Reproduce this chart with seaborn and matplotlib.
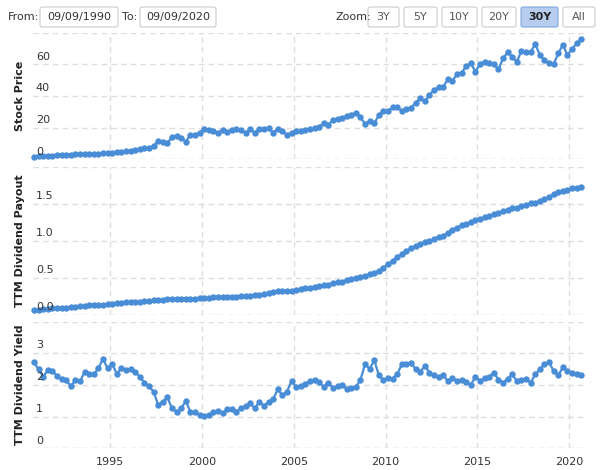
import numpy as np
import pandas as pd
import matplotlib
matplotlib.use("Agg")
import matplotlib.pyplot as plt
import matplotlib.dates as mdates
from matplotlib.patches import FancyBboxPatch
import seaborn as sns

sns.set_theme(style="white")
plt.rcParams['font.family'] = ['DejaVu Sans']

# ---- data (quarterly) ----
dates = pd.date_range("1990-11-01", "2020-09-01", periods=120)

stock_price = [
    1.5, 2.1, 1.8, 2.1, 2.4, 2.6, 2.8, 3.0, 3.0, 3.2,
    3.2, 3.4, 3.6, 3.4, 3.6, 3.8, 4.0, 4.2, 4.4, 4.8,
    5.0, 5.3, 5.7, 6.3, 6.9, 7.4, 8.4, 11.6, 10.9, 10.1,
    14.1, 14.7, 13.3, 11.2, 15.4, 15.4, 16.8, 19.4, 18.3, 17.9,
    16.8, 18.5, 17.3, 18.5, 18.9, 18.3, 16.8, 18.9, 16.8, 19.4,
    18.9, 20.0, 16.8, 19.4, 17.9, 15.4, 16.8, 17.9, 17.9, 18.3,
    19.0, 19.6, 20.6, 22.7, 21.7, 24.8, 25.3, 26.0, 27.4, 28.0,
    29.5, 26.5, 22.3, 24.4, 22.7, 28.0, 30.7, 30.7, 32.8, 32.8,
    30.7, 32.0, 32.6, 35.8, 38.5, 36.8, 40.6, 43.8, 45.5, 45.9,
    50.5, 49.7, 53.7, 54.7, 59.0, 60.6, 55.4, 60.2, 61.7, 60.6,
    60.0, 56.8, 63.8, 67.6, 64.8, 61.7, 68.4, 67.8, 67.8, 72.8,
    65.9, 62.7, 60.6, 60.0, 67.0, 72.2, 65.9, 69.7, 73.3, 75.8,
]

dividend_payout = [
    0.07, 0.07, 0.08, 0.08, 0.09,
    0.09, 0.10, 0.10, 0.11,
    0.11, 0.12, 0.12, 0.13,
    0.13, 0.14, 0.14, 0.15,
    0.15, 0.16, 0.16, 0.17,
    0.17, 0.18, 0.18, 0.19,
    0.19, 0.20, 0.20, 0.20,
    0.21, 0.21, 0.21, 0.22,
    0.22, 0.22, 0.22, 0.23,
    0.23, 0.23, 0.24, 0.24,
    0.24, 0.25, 0.25, 0.25,
    0.26, 0.26, 0.26, 0.27,
    0.27, 0.28, 0.30, 0.31,
    0.32, 0.32, 0.32, 0.33,
    0.34, 0.35, 0.36, 0.37,
    0.38, 0.39, 0.40, 0.41,
    0.43, 0.44, 0.45, 0.47,
    0.48, 0.50, 0.51, 0.53,
    0.55, 0.57, 0.60, 0.64,
    0.69, 0.73, 0.78, 0.83,
    0.87, 0.90, 0.93, 0.96,
    0.98, 1.00, 1.03, 1.05,
    1.07, 1.11, 1.15, 1.18,
    1.21, 1.23, 1.26, 1.28,
    1.30, 1.32, 1.34, 1.36,
    1.38, 1.40, 1.42, 1.44,
    1.45, 1.47, 1.49, 1.51,
    1.52, 1.54, 1.57, 1.60,
    1.63, 1.66, 1.68, 1.69,
    1.71, 1.72, 1.73,
]

dividend_yield = [
    2.71, 2.49, 2.26, 2.47, 2.45, 2.28, 2.18, 2.14, 1.97, 2.14,
    2.11, 2.41, 2.35, 2.33, 2.53, 2.82, 2.52, 2.66, 2.35, 2.53,
    2.47, 2.49, 2.41, 2.26, 2.07, 1.95, 1.79, 1.37, 1.47, 1.61,
    1.26, 1.15, 1.26, 1.49, 1.16, 1.13, 1.05, 1.02, 1.05, 1.13,
    1.19, 1.11, 1.23, 1.23, 1.16, 1.26, 1.32, 1.42, 1.26, 1.47,
    1.34, 1.47, 1.55, 1.86, 1.68, 1.79,
    2.12, 1.94, 1.96, 2.04, 2.12, 2.17, 2.09, 1.94, 2.07, 1.91,
    1.96, 1.99, 1.88, 1.91, 1.93, 2.17, 2.65, 2.51, 2.78, 2.30,
    2.15, 2.23, 2.20, 2.35, 2.65, 2.67, 2.68, 2.51, 2.41, 2.60,
    2.39, 2.30, 2.26, 2.30, 2.12, 2.23, 2.12, 2.14, 2.09, 2.01,
    2.26, 2.12, 2.23, 2.26, 2.39, 2.17, 2.07, 2.20, 2.33,
    2.12, 2.17, 2.20, 2.07, 2.33, 2.49, 2.65, 2.72, 2.44, 2.30,
    2.55, 2.44, 2.36, 2.33, 2.30,
]

panels = [
    ("Stock Price", stock_price, [0, 20, 40, 60, 80], ["0", "20", "40", "60"], 80),
    ("TTM Dividend Payout", dividend_payout, [0, 0.5, 1.0, 1.5, 2.0], ["0.0", "0.5", "1.0", "1.5"], 2.0),
    ("TTM Dividend Yield", dividend_yield, [0, 1, 2, 3, 4], ["0", "1", "2", "3"], 4),
]
year_ticks = [1995, 2000, 2005, 2010, 2015, 2020]

# ---- figure ----
W, H = 600, 470
fig = plt.figure(figsize=(6, 4.7), dpi=100)

def fy(px):
    return 1 - px / H

def fx(px):
    return px / W

extents = [(32.7, 159.3), (167.0, 315.0), (321.5, 448.3)]
left_px, right_px = 33, 587
line_color = "#4a8dd7"
grid_color = "#dddddd"
xmin = pd.Timestamp("1990-10-12")
xmax = pd.Timestamp("2020-12-25")

for i, ((title, vals, ticks, labels, top), (t, b)) in enumerate(zip(panels, extents)):
    ax = fig.add_axes([fx(left_px), fy(b), fx(right_px - left_px), (b - t) / H])
    df = pd.DataFrame({"date": dates, "value": vals})
    sns.lineplot(data=df, x="date", y="value", ax=ax, color=line_color,
                 linewidth=1.6, marker="o", markersize=4.6, markeredgewidth=0,
                 clip_on=False, zorder=5)
    ax.set_xlim(xmin, xmax)
    ax.set_ylim(0, top)
    for s in ax.spines.values():
        s.set_visible(False)
    ax.set_xlabel("")
    ax.set_ylabel("")
    ax.set_yticks(ticks)
    ax.set_yticklabels([])
    ax.tick_params(axis="both", length=0)
    for tv in ticks:
        col = "#c4c4c4" if tv == 0 else grid_color
        ax.axhline(tv, color=col, lw=1, ls=(0, (4, 3)), zorder=1)
    for yv in year_ticks:
        ax.axvline(pd.Timestamp(f"{yv}-01-01"), color=grid_color, lw=1,
                   ls=(0, (4, 3)), zorder=1)
    for tv, lab in zip(ticks, labels):
        ax.annotate(lab, xy=(0, tv), xycoords=("axes fraction", "data"),
                    xytext=(2, 2), textcoords="offset points",
                    ha="left", va="bottom", fontsize=8, color="#333333", zorder=6)
    ax.xaxis.set_major_locator(mdates.YearLocator(5))
    ax.xaxis.set_major_formatter(mdates.DateFormatter("%Y"))
    if i < 2:
        ax.set_xticklabels([])
    else:
        ax.tick_params(axis="x", labelsize=8, labelcolor="#333333", pad=6)
    fig.text(fx(20), fy((t + b) / 2), title, rotation=90, ha="center", va="center",
             fontsize=8, fontweight="bold", color="#222222")

def box(x0, x1, y0, y1, fc="white", ec="#cccccc"):
    p = FancyBboxPatch((fx(x0), fy(y1)), fx(x1 - x0), (y1 - y0) / H,
                       boxstyle="round,pad=0,rounding_size=0.004",
                       transform=fig.transFigure, facecolor=fc, edgecolor=ec, lw=0.8)
    fig.add_artist(p)

fig.text(fx(8), fy(17), "From:", fontsize=8, va="center", ha="left", color="#333333")
box(40, 118, 7, 27)
fig.text(fx(79), fy(17), "09/09/1990", fontsize=8, va="center", ha="center", color="#333333")
fig.text(fx(122), fy(17), "To:", fontsize=8, va="center", ha="left", color="#333333")
box(140, 216, 7, 27)
fig.text(fx(178), fy(17), "09/09/2020", fontsize=8, va="center", ha="center", color="#333333")

fig.text(fx(335), fy(17), "Zoom:", fontsize=8, va="center", ha="left", color="#333333")
buttons = [("3Y", 368, 399), ("5Y", 404, 437), ("10Y", 442, 477),
           ("20Y", 482, 516), ("30Y", 521, 558), ("All", 563, 595)]
for lab, x0, x1 in buttons:
    sel = lab == "30Y"
    box(x0, x1, 7, 27, fc="#b7cdf0" if sel else "white",
        ec="#7fa7e0" if sel else "#cccccc")
    fig.text(fx((x0 + x1) / 2), fy(17), lab, fontsize=8, va="center", ha="center",
             color="#222222" if sel else "#555555",
             fontweight="bold" if sel else "normal")

fig.savefig("out.png", dpi=100)
